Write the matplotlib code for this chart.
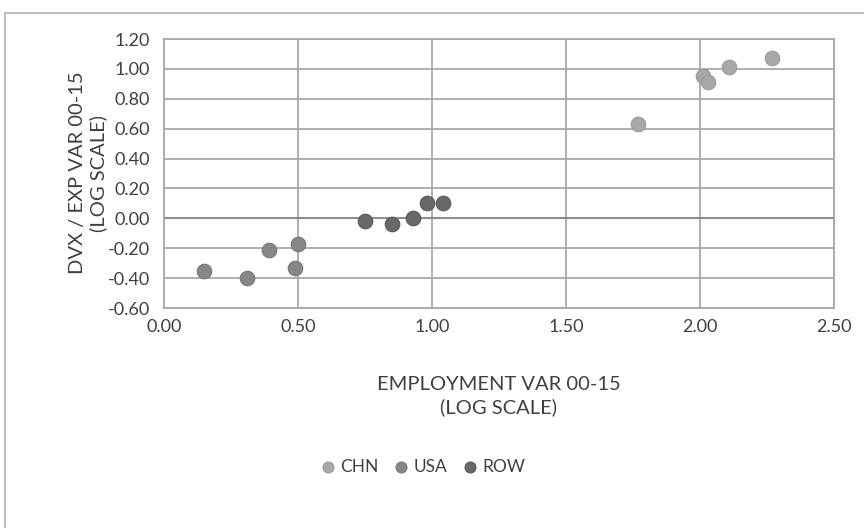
import matplotlib.pyplot as plt
from matplotlib.patches import Rectangle

# Data
chn_x = [1.77, 2.01, 2.03, 2.11, 2.27]
chn_y = [0.63, 0.95, 0.91, 1.01, 1.07]
usa_x = [0.15, 0.31, 0.39, 0.50, 0.49]
usa_y = [-0.35, -0.40, -0.21, -0.17, -0.33]
row_x = [0.75, 0.85, 0.93, 0.98, 1.04]
row_y = [-0.02, -0.04, 0.00, 0.10, 0.10]

series = ['CHN', 'USA', 'ROW']
colors = ['#A8A8A8', '#878787', '#686868']
edges = ['#9A9A9A', '#787878', '#585858']

xticks = [0.0, 0.5, 1.0, 1.5, 2.0, 2.5]
yticks = [-0.6, -0.4, -0.2, 0.0, 0.2, 0.4, 0.6, 0.8, 1.0, 1.2]

plt.rcParams['font.family'] = ['Lato', 'DejaVu Sans']

fig = plt.figure(figsize=(8.64, 5.28), dpi=100)
# chart border (cut off on the right and bottom)
fig.patches.append(Rectangle((5 / 864, -0.1), 1.2, 1 - 13 / 528 + 0.1,
                             transform=fig.transFigure, fill=False,
                             edgecolor='#B0B0B0', linewidth=1.2))

ax = fig.add_axes([164 / 864, 1 - 308 / 528, (834 - 164) / 864, (308 - 39) / 528])

for (xs, ys), name, c, e in zip([(chn_x, chn_y), (usa_x, usa_y), (row_x, row_y)],
                                series, colors, edges):
    ax.scatter(xs, ys, s=110, color=c, edgecolors=e, linewidths=0.8,
               label=name, zorder=3)

ax.set_xlim(0, 2.5)
ax.set_ylim(-0.6, 1.2)
ax.set_xticks(xticks)
ax.set_yticks(yticks)
ax.set_xticklabels([f'{v:.2f}' for v in xticks])
ax.set_yticklabels([f'{v:.2f}' for v in yticks])
ax.tick_params(length=0, labelsize=13, colors='#404040')
ax.tick_params(axis='y', pad=10)
ax.tick_params(axis='x', pad=8)
ax.grid(True, color='#A8A8A8', linewidth=1.3)
ax.set_axisbelow(True)
ax.axhline(0, color='#8C8C8C', linewidth=1.5, zorder=2)
for s in ax.spines.values():
    s.set_color('#A8A8A8')
    s.set_linewidth(1.3)

fig.text(499 / 864, 1 - 396 / 528, 'EMPLOYMENT VAR 00-15\n(LOG SCALE)',
         ha='center', va='center', fontsize=14.5, color='#404040', linespacing=1.4)
fig.text(88 / 864, 1 - 173 / 528, 'DVX / EXP VAR 00-15\n(LOG SCALE)',
         ha='center', va='center', rotation=90, fontsize=14.5, color='#404040',
         linespacing=1.2)

fig.legend(loc='center', bbox_to_anchor=(418 / 864, 1 - 467 / 528), ncol=3,
           frameon=False, fontsize=12.5, handletextpad=-0.3, columnspacing=0.3,
           markerscale=0.75, labelcolor='#404040')

fig.savefig('out.png', dpi=100)
